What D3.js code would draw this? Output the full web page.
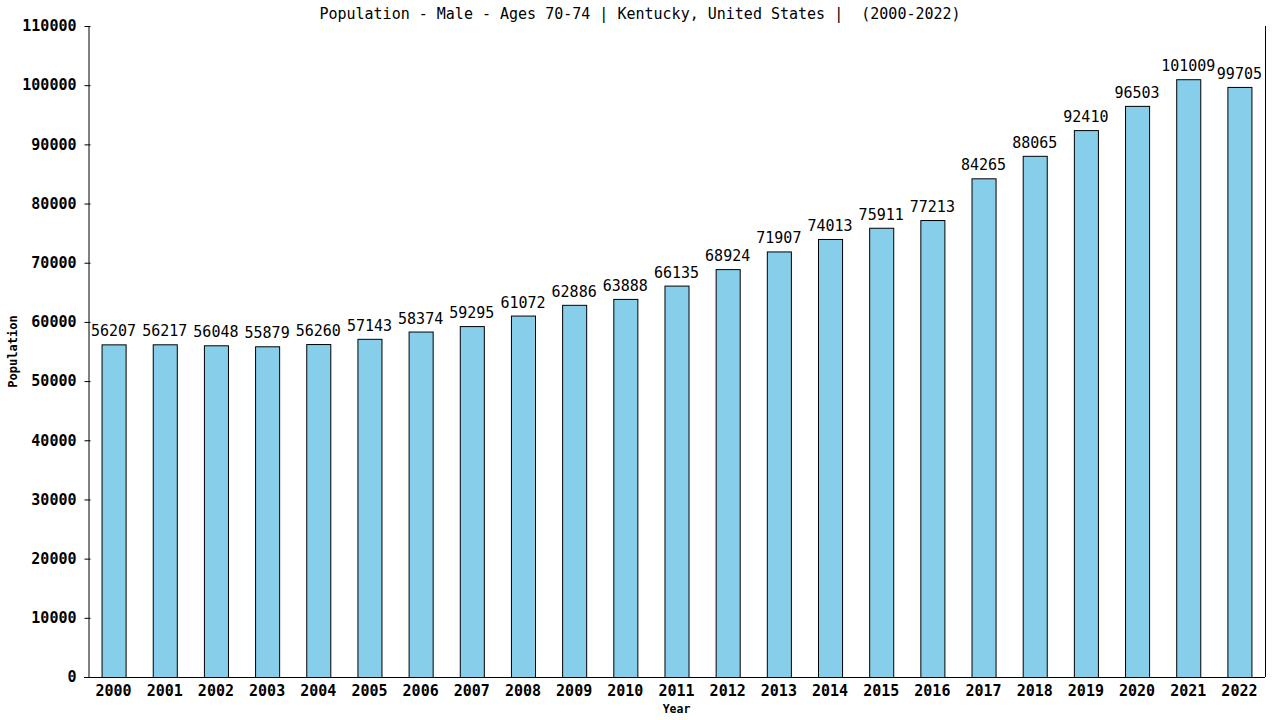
<!DOCTYPE html>
<html>
<head>
<meta charset="utf-8">
<script src="https://cdn.jsdelivr.net/npm/d3@7"></script>
<style>
  body { margin: 0; background: #fff; }
  text { font-family: "DejaVu Sans Mono", monospace; fill: #000; }
</style>
</head>
<body>
<div id="chart"></div>
<script>
const years = ["2000","2001","2002","2003","2004","2005","2006","2007","2008","2009","2010","2011",
  "2012","2013","2014","2015","2016","2017","2018","2019","2020","2021","2022"];
const population = [56207,56217,56048,55879,56260,57143,58374,59295,61072,62886,63888,66135,
  68924,71907,74013,75911,77213,84265,88065,92410,96503,101009,99705];
const yTicks = [0,10000,20000,30000,40000,50000,60000,70000,80000,90000,100000,110000];

const width = 1280, height = 720;
const margin = { top: 26, right: 15, bottom: 43, left: 88 };

const svg = d3.select("#chart").append("svg")
  .attr("width", width)
  .attr("height", height);

const x = d3.scaleBand().domain(years)
  .range([margin.left, width - margin.right])
  .paddingInner(0.53).paddingOuter(0.265);
const y = d3.scaleLinear().domain([0, 110000])
  .range([height - margin.bottom, margin.top]);

// Bars
svg.append("g").selectAll("rect")
  .data(years)
  .join("rect")
  .attr("x", (d) => x(d) + 0.5)
  .attr("y", (d, i) => y(population[i]) + 0.5)
  .attr("width", x.bandwidth())
  .attr("height", (d, i) => y(0) - y(population[i]))
  .attr("fill", "#87ceeb")
  .attr("stroke", "#000")
  .attr("stroke-width", 1);

// Value labels
svg.append("g").selectAll("text")
  .data(years)
  .join("text")
  .attr("x", (d) => x(d) + x.bandwidth() / 2)
  .attr("y", (d, i) => y(population[i]) - 8)
  .attr("text-anchor", "middle")
  .style("font-size", "15px")
  .text((d, i) => population[i]);

// Y axis
const yAxis = svg.append("g")
  .attr("transform", `translate(${margin.left + 0.5},0)`)
  .call(d3.axisLeft(y).tickValues(yTicks).tickSizeInner(4).tickSizeOuter(0).tickFormat(d3.format("d")));
yAxis.select(".domain").attr("stroke", "#000");
yAxis.selectAll(".tick line").attr("x2", 2).attr("x1", -4);
yAxis.selectAll(".tick text")
  .attr("x", -12)
  .style("font-size", "15px")
  .style("font-weight", "bold")
  .style("font-family", "'DejaVu Sans Mono', monospace");

// X axis
const xAxis = svg.append("g")
  .attr("transform", `translate(0,${height - margin.bottom + 0.5})`)
  .call(d3.axisBottom(x).tickSize(0));
xAxis.select(".domain").attr("stroke", "#000").attr("d", `M${margin.left - 4},0H${width - margin.right}`);
xAxis.selectAll(".tick text")
  .attr("dy", "1.05em")
  .style("font-size", "15px")
  .style("font-weight", "bold")
  .style("font-family", "'DejaVu Sans Mono', monospace");

// Right border line
svg.append("line")
  .attr("x1", width - margin.right + 0.5).attr("x2", width - margin.right + 0.5)
  .attr("y1", margin.top).attr("y2", height - margin.bottom)
  .attr("stroke", "#000");

// Title (keep the double space)
svg.append("text")
  .attr("x", width / 2)
  .attr("y", 19)
  .attr("text-anchor", "middle")
  .style("font-size", "15px")
  .style("white-space", "pre")
  .text("Population - Male - Ages 70-74 | Kentucky, United States |  (2000-2022)");

// Axis titles
svg.append("text")
  .attr("x", x.range()[0] + (x.range()[1] - x.range()[0]) / 2)
  .attr("y", 713)
  .attr("text-anchor", "middle")
  .style("font-size", "11.5px")
  .style("font-weight", "bold")
  .text("Year");

svg.append("text")
  .attr("transform", `translate(17,${(margin.top + height - margin.bottom) / 2}) rotate(-90)`)
  .attr("text-anchor", "middle")
  .style("font-size", "12px")
  .style("font-weight", "bold")
  .text("Population");
</script>
</body>
</html>
